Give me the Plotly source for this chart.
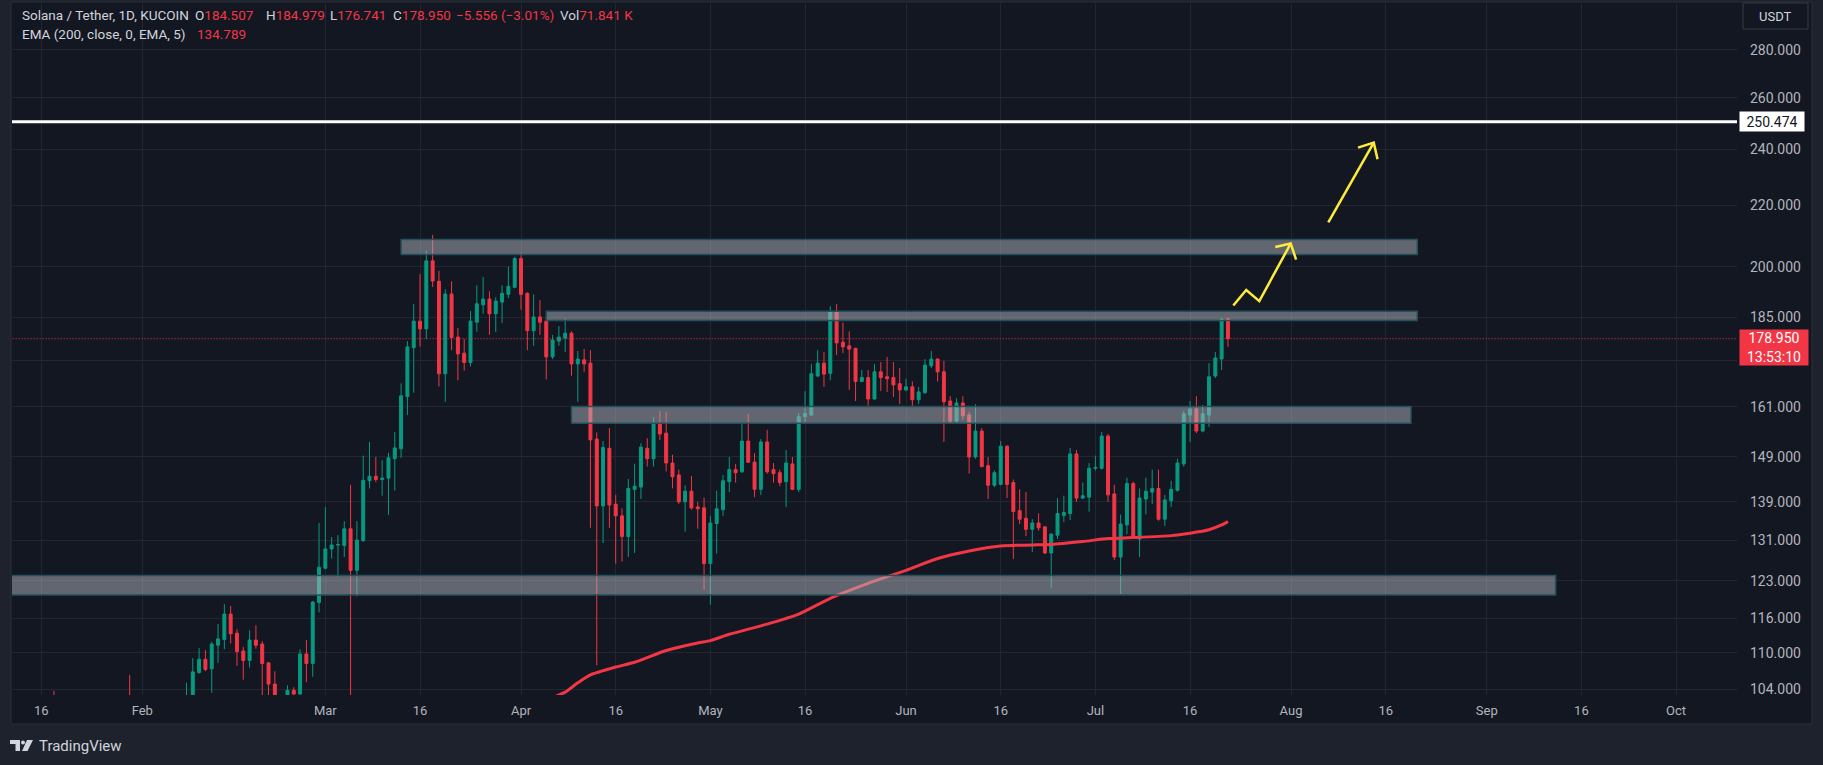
import math
import pandas as pd
import plotly.graph_objects as go

# ---------------- data ----------------
dates = pd.date_range("2024-01-12", "2024-07-22", freq="D")

jan_o = [97.5, 92.0, 92.8, 95.5, 96.8, 100.2, 99.4, 94.2, 91.6, 92.6, 90.2, 84.5, 82.3, 87.6, 86.5, 91.6, 93.2, 94.1, 100.3, 98.2]
jan_h = [101.0, 95.0, 97.0, 99.5, 101.8, 102.0, 103.7, 96.0, 94.0, 94.5, 91.0, 86.0, 88.5, 88.6, 92.5, 95.4, 96.8, 101.2, 106.3, 102.0]
jan_l = [90.5, 89.0, 91.5, 94.5, 95.0, 97.0, 92.0, 88.5, 90.0, 89.5, 83.0, 79.0, 81.5, 84.2, 85.6, 90.8, 92.0, 93.0, 97.2, 94.5]
jan_c = [92.0, 92.8, 95.5, 96.8, 100.2, 99.4, 94.2, 91.6, 92.6, 90.2, 84.5, 82.3, 87.6, 86.5, 91.6, 93.2, 94.1, 100.3, 98.2, 96.0]

feb_o = [96.0, 98.9, 98.6, 97.5, 95.8, 96.4, 98.2, 99.5, 102.5, 106.7, 108.9, 107.3, 111.3, 112.3, 116.8, 113.4, 110.3, 108.7, 112.2, 111.5, 108.3, 104.8, 101.5, 100.5, 103.8, 103.2, 109.8, 108.2, 118.9]
feb_h = [99.8, 101.5, 101.0, 99.0, 99.5, 99.9, 101.2, 105.0, 109.1, 110.8, 110.5, 111.9, 115.0, 118.6, 118.3, 114.1, 111.0, 113.9, 114.8, 112.0, 108.4, 106.9, 102.5, 104.6, 104.3, 110.6, 112.2, 119.2, 134.5]
feb_l = [93.5, 96.8, 96.5, 95.0, 94.8, 95.7, 96.8, 98.5, 101.5, 106.5, 106.9, 103.4, 108.3, 110.6, 111.6, 107.8, 105.5, 107.5, 110.7, 101.5, 101.0, 99.5, 98.5, 100.0, 101.5, 101.5, 105.1, 106.0, 117.1]
feb_c = [98.9, 98.6, 97.5, 95.8, 96.4, 98.2, 99.5, 102.5, 106.8, 108.9, 107.2, 111.5, 112.4, 116.8, 113.3, 110.2, 108.7, 112.2, 111.3, 108.2, 104.8, 101.5, 100.5, 103.8, 103.2, 109.8, 108.2, 119.0, 125.6]

mar_o = [125.4, 129.2, 130.0, 129.9, 133.3, 125.0, 130.9, 143.6, 144.6, 143.9, 144.2, 148.6, 150.9, 163.6, 176.5, 183.9, 181.7, 201.9, 195.6, 169.5, 191.8, 179.4, 175.0, 172.5, 183.6, 188.6, 190.3, 186.0, 189.4, 191.7, 193.8]
mar_h = [137.9, 131.6, 132.0, 134.9, 142.7, 134.9, 149.3, 152.5, 149.0, 148.3, 150.0, 154.9, 167.0, 178.3, 188.9, 197.8, 205.1, 210.2, 198.8, 193.2, 195.6, 181.9, 178.9, 186.8, 194.4, 196.9, 192.6, 190.8, 194.4, 200.1, 203.2]
mar_l = [125.2, 127.3, 123.7, 127.6, 100.0, 120.0, 130.6, 141.9, 143.3, 140.3, 136.2, 141.4, 148.8, 159.0, 164.6, 176.8, 178.8, 193.9, 166.2, 162.3, 175.8, 167.8, 170.3, 171.4, 180.9, 186.0, 180.0, 180.8, 183.4, 190.6, 193.5]
mar_c = [129.2, 130.0, 130.1, 133.3, 125.0, 131.0, 143.7, 144.6, 143.9, 144.2, 148.8, 151.1, 163.8, 176.7, 183.9, 181.7, 201.9, 195.7, 169.5, 191.8, 179.3, 174.8, 172.5, 183.9, 188.9, 190.3, 186.0, 189.7, 192.0, 194.1, 202.6]

apr_o = [202.6, 192.0, 181.2, 185.1, 183.9, 174.0, 178.3, 179.1, 180.5, 172.1, 173.2, 172.3, 153.2, 138.1, 151.0, 138.5, 136.0, 131.7, 141.7, 142.2, 151.0, 148.6, 156.9, 154.6, 147.6, 144.9, 139.0, 141.3, 137.9, 137.7]
apr_h = [204.4, 192.3, 191.7, 190.0, 185.1, 180.0, 182.5, 184.5, 181.0, 175.6, 176.1, 175.8, 154.8, 152.7, 155.8, 140.5, 137.6, 144.0, 147.4, 152.2, 153.4, 158.5, 160.0, 159.8, 149.5, 146.1, 142.6, 144.7, 139.0, 139.9]
apr_l = [187.2, 175.8, 177.0, 180.0, 168.0, 173.4, 177.0, 175.3, 169.0, 162.3, 170.0, 133.5, 107.9, 130.4, 133.5, 126.3, 126.7, 127.6, 128.4, 139.6, 146.8, 146.8, 153.0, 145.7, 141.9, 138.5, 132.7, 137.3, 133.3, 121.3]
apr_c = [191.7, 181.2, 185.1, 183.6, 174.0, 178.6, 179.4, 180.5, 172.1, 173.4, 172.1, 153.0, 138.1, 151.2, 138.3, 136.0, 131.7, 141.9, 142.4, 151.3, 148.6, 156.9, 154.4, 147.6, 144.5, 139.0, 141.3, 137.7, 137.5, 126.3]

may_o = [126.3, 134.4, 137.3, 143.4, 146.1, 145.6, 152.7, 147.8, 141.7, 152.5, 146.1, 145.4, 143.4, 147.4, 141.7, 158.6, 159.0, 168.9, 172.3, 169.6, 186.6, 178.0, 177.0, 176.3, 167.5, 168.5, 163.0, 170.0, 168.7, 168.5, 166.9]
may_h = [136.0, 141.4, 144.9, 149.0, 147.4, 156.9, 159.3, 149.9, 153.2, 155.4, 147.6, 146.1, 150.6, 149.0, 159.5, 165.0, 172.1, 175.8, 175.3, 188.2, 188.8, 183.5, 181.0, 176.5, 170.5, 170.5, 172.1, 172.6, 174.0, 172.6, 171.0]
may_l = [118.5, 128.3, 136.0, 141.1, 143.2, 145.4, 147.6, 140.0, 140.5, 145.2, 143.2, 142.4, 137.9, 141.5, 141.1, 156.9, 158.8, 168.7, 166.1, 167.8, 174.5, 175.0, 165.3, 162.5, 167.3, 161.0, 162.8, 165.0, 164.8, 163.5, 161.7]
may_c = [134.5, 137.5, 143.6, 146.1, 145.4, 152.7, 147.8, 141.7, 152.5, 145.6, 145.2, 143.2, 147.6, 141.7, 158.6, 159.4, 169.5, 172.3, 169.4, 186.6, 177.8, 176.7, 176.1, 167.5, 168.5, 163.0, 170.0, 168.5, 168.2, 166.6, 165.3]

jun_o = [165.3, 166.1, 162.8, 164.6, 171.6, 173.4, 170.0, 162.5, 157.5, 162.0, 159.0, 149.0, 155.1, 147.0, 142.6, 142.8, 151.5, 143.2, 137.1, 135.5, 133.2, 134.5, 133.7, 128.4, 132.0, 136.1, 136.5, 149.7, 139.8, 140.0]
jun_h = [168.2, 167.5, 166.1, 173.4, 175.6, 173.6, 172.9, 163.7, 163.2, 163.7, 159.8, 161.7, 155.8, 149.0, 145.9, 152.7, 151.7, 143.9, 141.7, 141.1, 135.3, 136.5, 133.9, 132.4, 139.8, 140.3, 151.1, 150.6, 143.2, 147.6]
jun_l = [165.0, 161.2, 161.7, 164.3, 171.0, 167.5, 152.5, 157.0, 156.9, 157.8, 145.2, 148.6, 146.6, 139.6, 142.2, 142.6, 139.8, 127.2, 134.3, 131.8, 128.6, 132.9, 128.2, 121.6, 131.2, 134.7, 135.1, 139.0, 139.6, 136.9]
jun_c = [166.1, 162.8, 164.8, 171.8, 173.4, 170.0, 162.3, 157.5, 162.0, 158.8, 149.0, 155.1, 146.8, 142.6, 145.4, 151.5, 142.8, 136.9, 135.3, 133.2, 134.5, 133.5, 128.4, 132.2, 136.5, 136.7, 149.7, 139.8, 140.3, 146.4]

jul_o = [146.4, 146.4, 153.9, 140.7, 127.6, 134.1, 143.0, 131.2, 139.6, 141.1, 141.9, 135.3, 139.2, 141.5, 147.4, 159.0, 160.5, 155.1, 159.0, 168.9, 173.4, 184.507]
jul_h = [149.3, 154.9, 154.4, 142.7, 136.3, 144.3, 143.4, 141.9, 144.3, 146.1, 146.1, 140.5, 143.6, 148.6, 160.0, 162.5, 163.7, 161.5, 172.3, 175.3, 184.8, 184.979]
jul_l = [145.9, 146.1, 139.0, 127.0, 120.5, 132.2, 131.4, 127.6, 136.3, 138.5, 135.0, 133.9, 137.9, 141.2, 146.8, 152.5, 154.6, 154.8, 156.1, 168.4, 170.5, 176.741]
jul_c = [146.6, 153.9, 140.5, 127.6, 134.3, 143.0, 131.4, 139.8, 141.3, 141.9, 135.3, 139.4, 141.7, 147.6, 159.3, 160.5, 155.1, 159.3, 168.7, 173.7, 184.4, 178.950]

opens = jan_o + feb_o + mar_o + apr_o + may_o + jun_o + jul_o
highs = jan_h + feb_h + mar_h + apr_h + may_h + jun_h + jul_h
lows = jan_l + feb_l + mar_l + apr_l + may_l + jun_l + jul_l
closes = jan_c + feb_c + mar_c + apr_c + may_c + jun_c + jul_c

ema_dates = ["2024-04-06", "2024-04-08", "2024-04-10", "2024-04-12", "2024-04-16", "2024-04-19",
             "2024-04-24", "2024-04-29", "2024-05-01", "2024-05-04", "2024-05-10", "2024-05-15",
             "2024-05-20", "2024-05-26", "2024-06-01", "2024-06-06", "2024-06-11", "2024-06-16",
             "2024-06-21", "2024-06-24", "2024-06-29", "2024-07-03", "2024-07-07", "2024-07-13",
             "2024-07-16", "2024-07-19", "2024-07-21", "2024-07-22"]
ema_vals = [102.6, 103.5, 105.0, 106.3, 107.6, 108.4, 110.4, 111.7, 112.1, 113.2, 115.0, 116.8,
            119.7, 122.5, 125.0, 127.3, 128.8, 129.8, 130.0, 130.1, 130.7, 131.3, 131.5, 131.9,
            132.4, 133.1, 134.1, 134.8]

# zones: (start, end, low, high)
zone_starts = ["2024-03-13", "2024-04-05", "2024-04-09", "2024-01-01"]
zone_ends = ["2024-08-21", "2024-08-21", "2024-08-20", "2024-09-11 22:00"]
zone_lows = [203.9, 184.1, 157.0, 120.3]
zone_highs = [208.7, 186.7, 161.1, 124.0]

target_level = 250.474
last_price = 178.950

arrow1_x = ["2024-07-22 20:24", "2024-07-24 21:36", "2024-07-26 23:17", "2024-07-31 22:34"]
arrow1_y = [188.4, 193.0, 189.7, 207.4]
arrow1_head_x = ["2024-07-29 12:00", "2024-07-31 22:34", "2024-08-01 19:12"]
arrow1_head_y = [206.3, 207.4, 202.3]
arrow2_x = ["2024-08-06 21:36", "2024-08-14 02:24"]
arrow2_y = [214.3, 242.5]
arrow2_head_x = ["2024-08-11 14:24", "2024-08-14 02:24", "2024-08-14 16:48"]
arrow2_head_y = [240.6, 242.5, 236.3]

y_ticks = [104, 110, 116, 123, 131, 139, 149, 161, 173, 185, 200, 220, 240, 260, 280]
y_tick_text = ["104.000", "110.000", "116.000", "123.000", "131.000", "139.000", "149.000", "161.000",
               "", "185.000", "200.000", "220.000", "240.000", "260.000", "280.000"]
x_tick_dates = ["2024-01-16", "2024-02-01", "2024-03-01", "2024-03-16", "2024-04-01", "2024-04-16",
                "2024-05-01", "2024-05-16", "2024-06-01", "2024-06-16", "2024-07-01", "2024-07-16",
                "2024-08-01", "2024-08-16", "2024-09-01", "2024-09-16", "2024-10-01"]
x_tick_text = ["16", "Feb", "Mar", "16", "Apr", "16", "May", "16", "Jun", "16", "Jul", "16",
               "Aug", "16", "Sep", "16", "Oct"]

# ---------------- style / layout helpers ----------------
W, H = 1823, 765
PL, PR, PT, PB = 12, 1737, 3, 695
Y_RANGE = [2.01300, 2.47865]
X_RANGE = ["2024-01-11 08:35", "2024-10-10 15:36"]
BG = "#131722"
OUTER = "#1e222d"
GRID = "#222631"
GREEN = "#089981"
RED = "#f23645"
TXT = "#b2b5be"
LEG = "#d1d4dc"
FONT = "Roboto"


def px(x):
    return (x - PL) / (PR - PL)


def py(y):
    return (PB - y) / (PB - PT)


def vy(v):
    return (math.log10(v) - Y_RANGE[0]) / (Y_RANGE[1] - Y_RANGE[0])


fig = go.Figure()

# EMA (drawn under the zones)
fig.add_trace(go.Scatter(x=ema_dates, y=ema_vals, mode="lines",
                         line=dict(color=RED, width=3, shape="spline", smoothing=0.6),
                         hoverinfo="skip"))

# candles
fig.add_trace(go.Candlestick(
    x=dates, open=opens, high=highs, low=lows, close=closes,
    increasing=dict(line=dict(color=GREEN, width=1), fillcolor=GREEN),
    decreasing=dict(line=dict(color=RED, width=1), fillcolor=RED),
    whiskerwidth=0, hoverinfo="skip"))

# zones
for s, e, lo, hi in zip(zone_starts, zone_ends, zone_lows, zone_highs):
    fig.add_trace(go.Scatter(x=[s, e, e, s, s], y=[lo, lo, hi, hi, lo], mode="lines",
                             fill="toself", fillcolor="rgba(178,181,190,0.5)",
                             line=dict(color="#24505c", width=1.5), hoverinfo="skip"))

# target line & last price line
fig.add_trace(go.Scatter(x=["2024-01-01", "2024-11-01"], y=[target_level, target_level], mode="lines",
                         line=dict(color="#ffffff", width=3), hoverinfo="skip"))
fig.add_trace(go.Scatter(x=["2024-01-01", "2024-11-01"], y=[last_price, last_price], mode="lines",
                         line=dict(color=RED, width=1, dash="1px,2px"), hoverinfo="skip"))

# arrows
for ax_, ay_ in [(arrow1_x, arrow1_y), (arrow1_head_x, arrow1_head_y),
                 (arrow2_x, arrow2_y), (arrow2_head_x, arrow2_head_y)]:
    fig.add_trace(go.Scatter(x=ax_, y=ay_, mode="lines",
                             line=dict(color="#ffeb3b", width=2.5), hoverinfo="skip"))

shapes = [
    # chart widget background
    dict(type="rect", xref="paper", yref="paper", x0=px(11), x1=px(1812), y0=py(724), y1=py(2),
         fillcolor=BG, line=dict(color="#2a2e39", width=1), layer="below"),
    # USDT button
    dict(type="rect", xref="paper", yref="paper", x0=px(1743), x1=px(1808), y0=py(29), y1=py(3),
         fillcolor=BG, line=dict(color="#363a45", width=1), layer="above"),
    # TradingView logo
    dict(type="path", xref="paper", yref="paper",
         path="M {} {} L {} {} L {} {} L {} {} L {} {} L {} {} Z".format(
             px(10), py(740), px(20), py(740), px(20), py(751), px(15.5), py(751), px(15.5), py(744), px(10), py(744)),
         fillcolor=LEG, line=dict(width=0), layer="above"),
    dict(type="circle", xref="paper", yref="paper", x0=px(21), x1=px(25), y0=py(744.5), y1=py(740.5),
         fillcolor=LEG, line=dict(width=0), layer="above"),
    dict(type="path", xref="paper", yref="paper",
         path="M {} {} L {} {} L {} {} L {} {} Z".format(
             px(27), py(740), px(33), py(740), px(27.5), py(751), px(22), py(751)),
         fillcolor=LEG, line=dict(width=0), layer="above"),
]

r = lambda s: '<span style="color:%s">%s</span>' % (RED, s)

legend_items = [
    (20, 15, "Solana / Tether, 1D, KUCOIN"),
    (193, 15, "O" + r("184.507")),
    (264, 15, "H" + r("184.979")),
    (328, 15, "L" + r("176.741")),
    (391, 15, "C" + r("178.950")),
    (454, 15, r("\u22125.556 (\u22123.01%)")),
    (558, 15, "Vol" + r("71.841\u00a0K")),
    (20, 34, "EMA (200, close, 0, EMA, 5)"),
    (195, 34, r("134.789")),
]

annotations = [
    dict(text=t, xref="paper", yref="paper", x=px(xx), y=py(yy), xanchor="left", yanchor="middle",
         showarrow=False, font=dict(family=FONT, size=13.5, color=LEG))
    for xx, yy, t in legend_items
]
annotations += [
    dict(text="USDT", xref="paper", yref="paper", x=px(1775.5), y=py(16), xanchor="center", yanchor="middle",
         showarrow=False, font=dict(family=FONT, size=13, color=LEG)),
    dict(text="250.474", xref="paper", yref="paper", x=px(1739), y=vy(target_level), xanchor="left",
         yanchor="middle", showarrow=False, bgcolor="#ffffff", width=62, height=17, borderpad=1,
         font=dict(family=FONT, size=14, color="#131722")),
    dict(text="178.950<br>13:53:10", xref="paper", yref="paper", x=px(1739), y=py(347.5), xanchor="left",
         yanchor="middle", showarrow=False, bgcolor=RED, width=66, height=33, borderpad=1, align="center",
         font=dict(family=FONT, size=14, color="#ffffff")),
    dict(text="TradingView", xref="paper", yref="paper", x=px(37), y=py(746), xanchor="left", yanchor="middle",
         showarrow=False, font=dict(family=FONT, size=15, color=LEG)),
]

fig.update_layout(
    width=W, height=H,
    margin=dict(l=PL, r=W - PR, t=PT, b=H - PB, pad=0),
    paper_bgcolor=OUTER, plot_bgcolor=BG,
    showlegend=False, hovermode=False,
    font=dict(family=FONT, size=13, color=TXT),
    boxgap=0.33,
    shapes=shapes, annotations=annotations,
    xaxis=dict(type="date", range=X_RANGE, rangeslider=dict(visible=False),
               tickvals=x_tick_dates, ticktext=x_tick_text, showgrid=True, gridcolor=GRID, gridwidth=1,
               zeroline=False, showline=False, ticks="", ticklabelstandoff=6,
               tickfont=dict(family=FONT, size=13, color=TXT), fixedrange=True),
    yaxis=dict(type="log", side="right", range=Y_RANGE, tickvals=y_ticks,
               ticktext=y_tick_text, showgrid=True, gridcolor=GRID, gridwidth=1,
               zeroline=False, showline=False, ticks="", ticklabelstandoff=12,
               tickfont=dict(family=FONT, size=14, color=TXT), fixedrange=True),
)

fig.write_html("out.html", config={"displayModeBar": False},
               post_script="document.body.style.margin='0';document.body.style.background='%s';" % OUTER)
